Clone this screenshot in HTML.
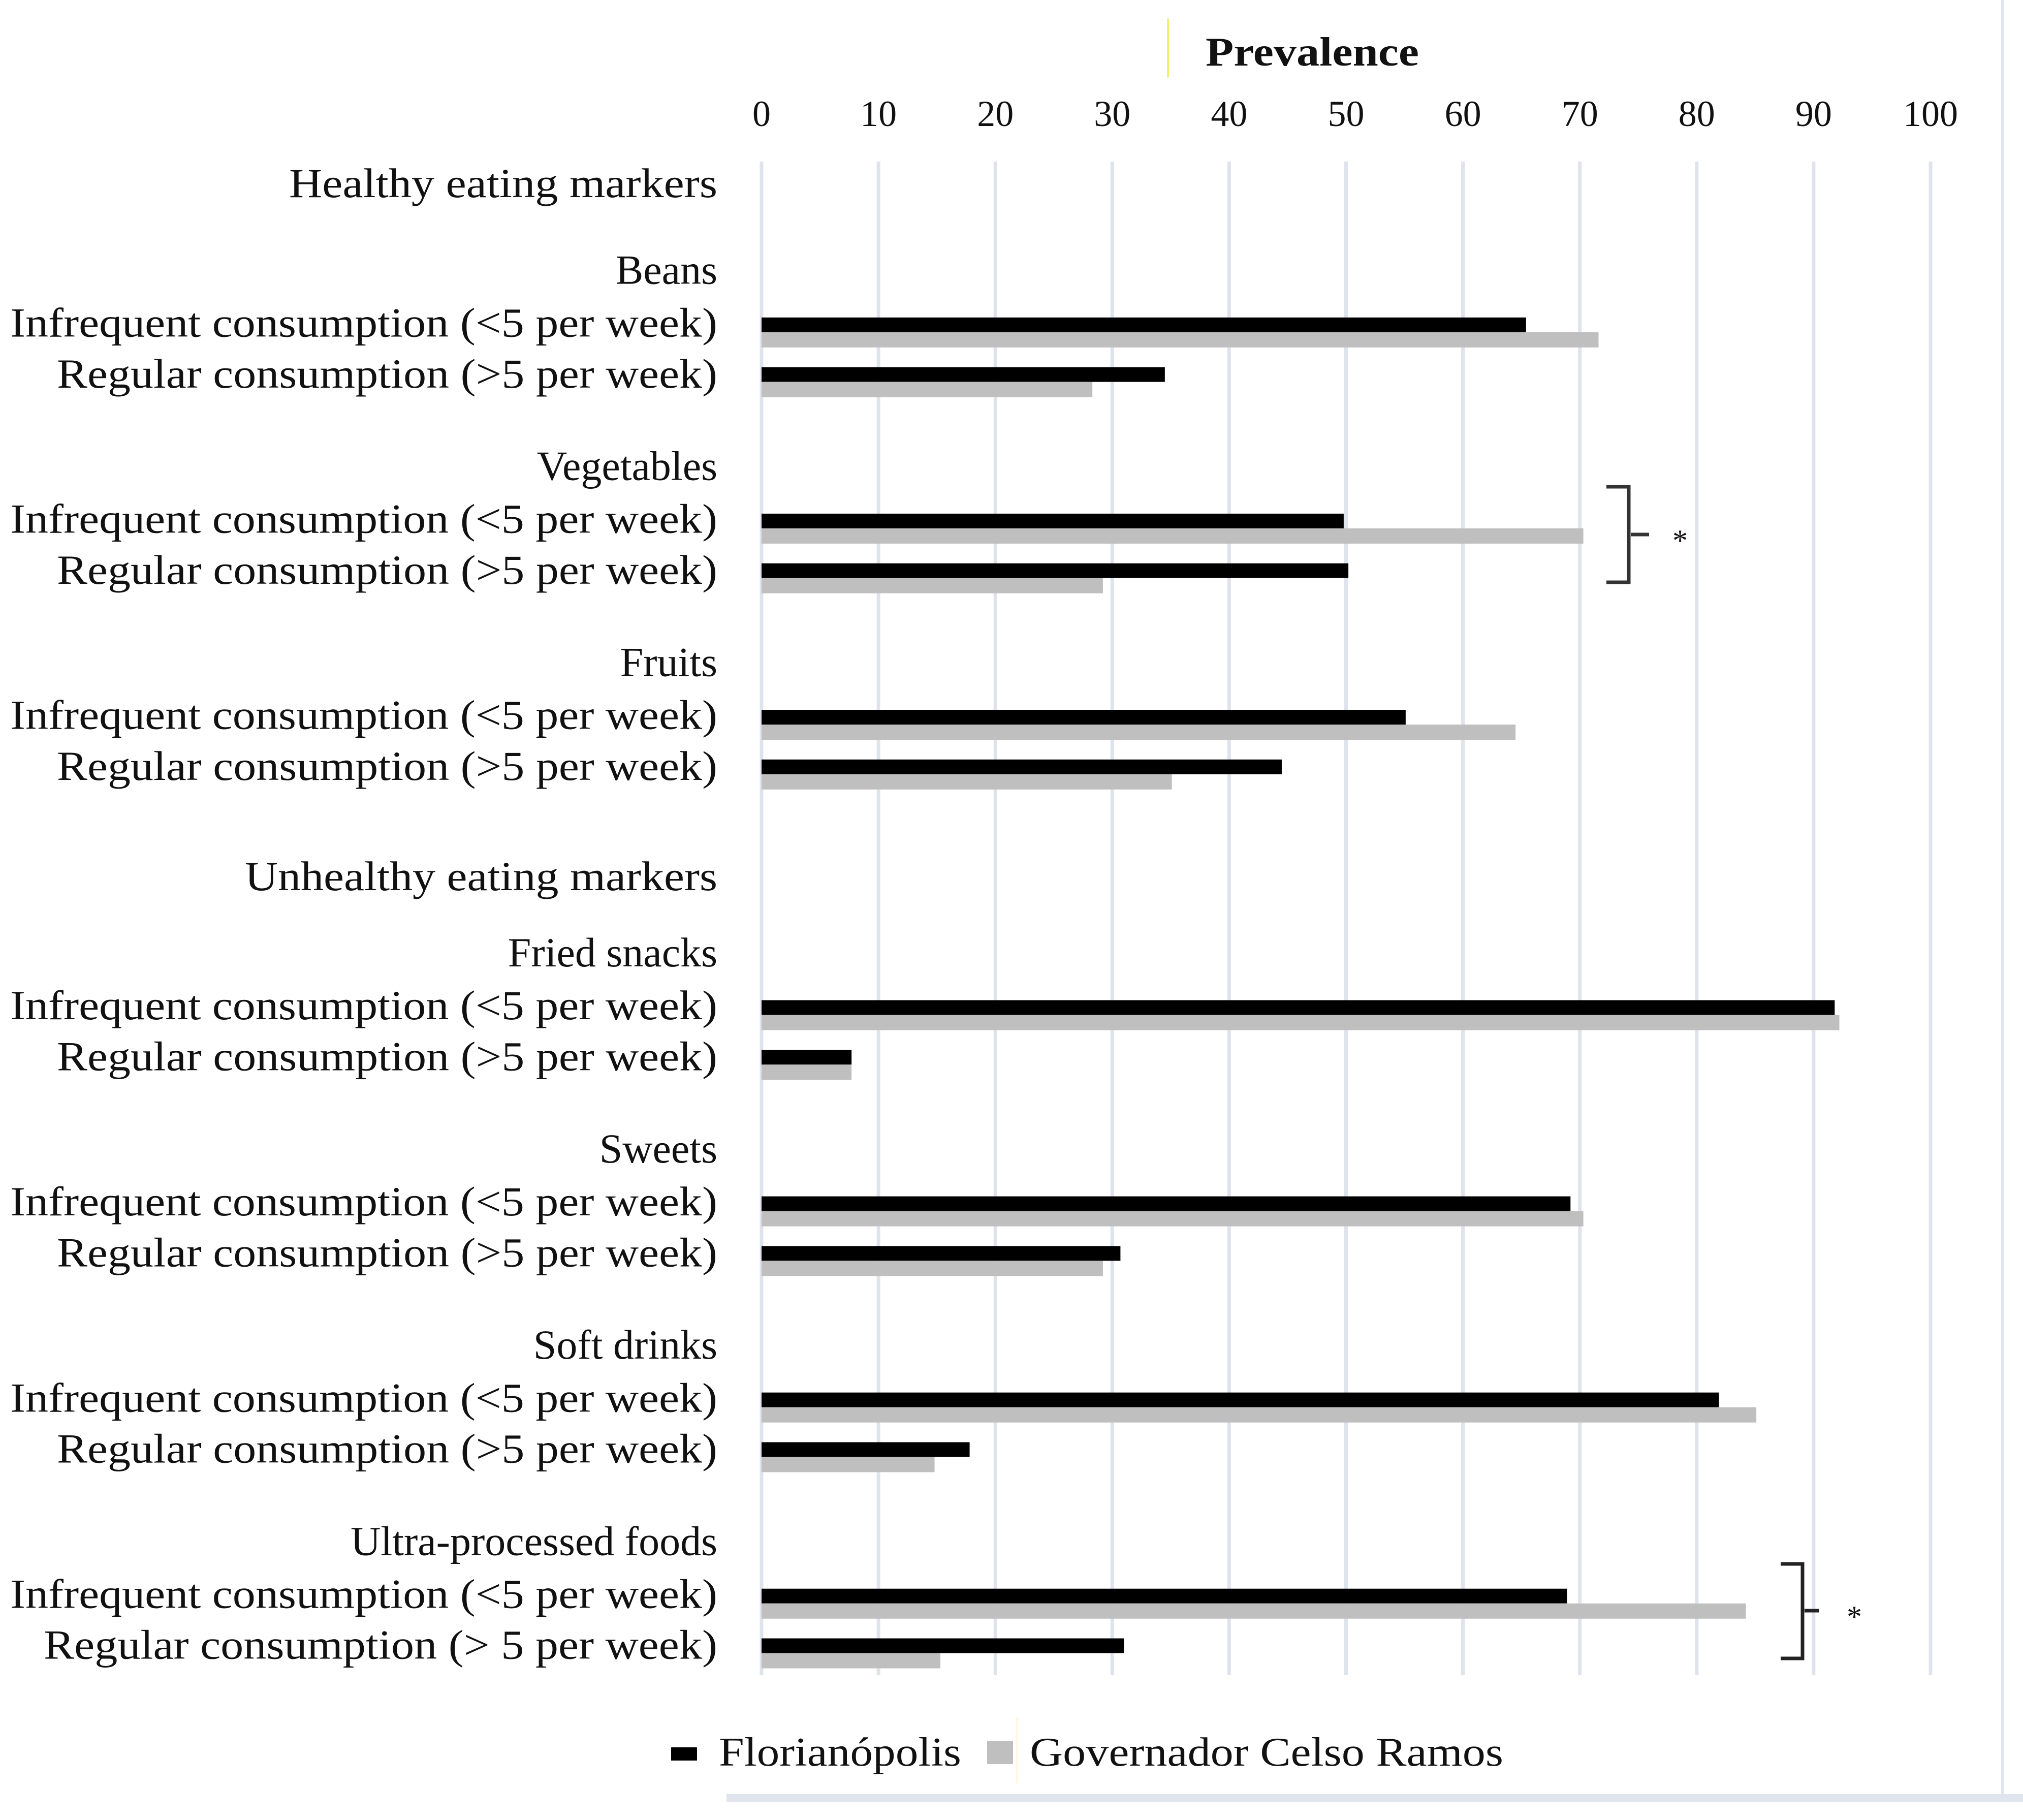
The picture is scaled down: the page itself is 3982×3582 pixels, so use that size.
<!DOCTYPE html>
<html><head><meta charset="utf-8"><style>
html,body{margin:0;padding:0;background:#fff;}
svg{display:block;}
text{font-family:"Liberation Serif","DejaVu Serif",serif;fill:#111;}
</style></head><body>
<svg id="chart" width="3982" height="3582" viewBox="0 0 3982 3582" xmlns="http://www.w3.org/2000/svg">
<line x1="3942" y1="0" x2="3942" y2="3535" stroke="#e3e6ec" stroke-width="6"/>
<rect x="1430" y="3531" width="2552" height="15" fill="#e0e4ec"/>
<line x1="2299" y1="38" x2="2299" y2="152" stroke="#f4ee6a" stroke-width="4"/>
<text x="2583" y="103" font-size="80" font-weight="bold" text-anchor="middle" dominant-baseline="central" textLength="420" lengthAdjust="spacingAndGlyphs">Prevalence</text>
<g id="grid"></g><g id="ticks"></g><g id="labels"></g><g id="bars"></g>
<g fill="none" stroke="#333" stroke-width="7">
<path d="M3162 958 H3206 V1146 H3162 M3210 1052 H3246"/>
</g>
<text x="3307" y="1064" font-size="60" text-anchor="middle" dominant-baseline="central">*</text>
<g fill="none" stroke="#222" stroke-width="7">
<path d="M3505 3078 H3548 V3264 H3505 M3552 3170 H3581"/>
</g>
<text x="3650" y="3182" font-size="60" text-anchor="middle" dominant-baseline="central">*</text>
<g>
<rect x="1321" y="3439" width="51" height="26" fill="#000"/>
<text x="1415" y="3449" font-size="80" dominant-baseline="central" textLength="477" lengthAdjust="spacingAndGlyphs">Florianópolis</text>
<rect x="1943" y="3427" width="51" height="45" fill="#bfbfbf"/>
<line x1="2002" y1="3380" x2="2002" y2="3510" stroke="#fbf6d8" stroke-width="3"/>
<text x="2027" y="3449" font-size="80" dominant-baseline="central" textLength="932" lengthAdjust="spacingAndGlyphs">Governador Celso Ramos</text>
</g>
</svg>
<script>
const categories = ["Beans","Vegetables","Fruits","Fried snacks","Sweets","Soft drinks","Ultra-processed foods"];
const floripaInfrequent = [65.4,49.8,55.1,91.8,69.2,81.9,68.9];
const floripaRegular = [34.5,50.2,44.5,7.7,30.7,17.8,31.0];
const gcrInfrequent = [71.6,70.3,64.5,92.2,70.3,85.1,84.2];
const gcrRegular = [28.3,29.2,35.1,7.7,29.2,14.8,15.3];
const tickLabels = ["0","10","20","30","40","50","60","70","80","90","100"];
const tickValues = [0,10,20,30,40,50,60,70,80,90,100];

const NS="http://www.w3.org/2000/svg";
const S=2.54;
const X0=1499, X1=3800;
function x(v){return X0+(X1-X0)*v/100;}
function rowTop(g,s){const d=246+g*152+(g>=3?73:0)+s*38.5;return d*S;}
function mk(tag,attrs,parent){const e=document.createElementNS(NS,tag);for(const k in attrs)e.setAttribute(k,attrs[k]);parent.appendChild(e);return e;}
const grid=document.getElementById('grid'),ticks=document.getElementById('ticks'),labels=document.getElementById('labels'),bars=document.getElementById('bars');
tickValues.forEach((v,i)=>{
  const l=mk('line',{x1:x(v),x2:x(v),y1:318,y2:3297,stroke:'#dfe3eb','stroke-width':7},grid);
  
  
  const t=mk('text',{x:x(v),y:224,'font-size':72,'text-anchor':'middle','dominant-baseline':'central'},ticks);
  
  
  t.textContent=tickLabels[i];
});
function label(txt,y,w,name){
  const t=mk('text',{x:1412,y:y,'font-size':82,'text-anchor':'end','dominant-baseline':'central'},labels);
  if(w){t.setAttribute('textLength',w);t.setAttribute('lengthAdjust','spacingAndGlyphs');}
  
  
  t.textContent=txt;
}
label("Healthy eating markers",142*S,843,'section-header-healthy');
label("Unhealthy eating markers",679*S,930,'section-header-unhealthy');
categories.forEach((c,g)=>{
  const top=rowTop(g,0);
  label(c,top-37*S,null,'category-label-'+g);
  label("Infrequent consumption (<5 per week)",top+4*S,1392,'row-label-infrequent-'+g);
  label(g===6?"Regular consumption (> 5 per week)":"Regular consumption (>5 per week)",rowTop(g,1)+5*S,g===6?1326:1300,'row-label-regular-'+g);
  const sets=[[floripaInfrequent,gcrInfrequent,0,'infrequent'],[floripaRegular,gcrRegular,1,'regular']];
  sets.forEach(([f,gc,s,nm])=>{
    const ty=rowTop(g,s);
    const b=mk('rect',{x:X0,y:ty,width:x(f[g])-X0,height:29,fill:'#000'},bars);
    
    
    const b2=mk('rect',{x:X0,y:ty+29,width:x(gc[g])-X0,height:30,fill:'#bfbfbf'},bars);
    
    
  });
});
</script>
</body></html>
